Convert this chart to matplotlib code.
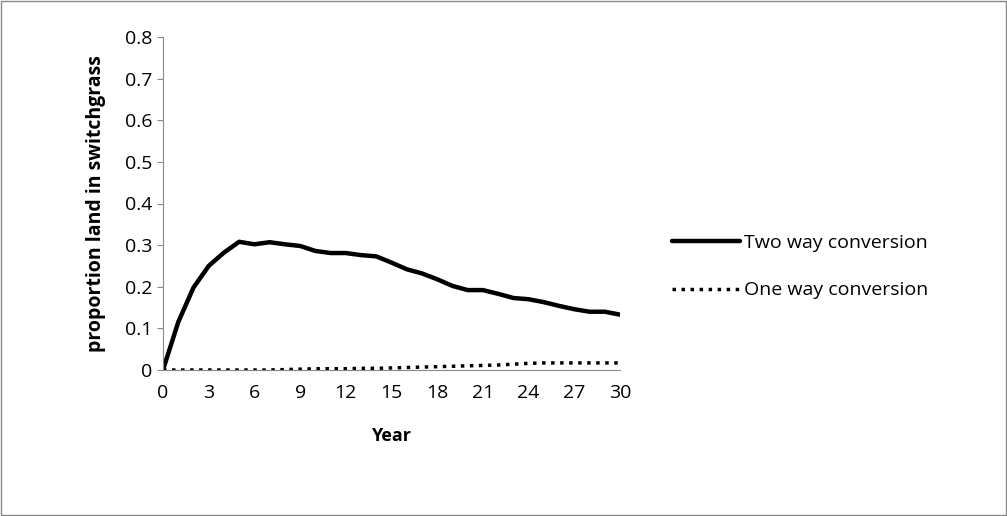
import matplotlib
matplotlib.use('Agg')
import matplotlib.pyplot as plt

years = list(range(31))
two_way = [0.0, 0.115, 0.198, 0.25, 0.282, 0.308, 0.302, 0.307, 0.302, 0.298, 0.286,
           0.281, 0.281, 0.276, 0.273, 0.258, 0.242, 0.232, 0.218, 0.202, 0.192,
           0.192, 0.183, 0.173, 0.17, 0.163, 0.154, 0.146, 0.14, 0.14, 0.133]
one_way = [0.0, 0.0, 0.0, 0.0, 0.0, 0.0, 0.0, 0.0, 0.001, 0.002, 0.003,
           0.003, 0.003, 0.004, 0.004, 0.005, 0.006, 0.007, 0.008, 0.009, 0.01,
           0.011, 0.012, 0.014, 0.016, 0.017, 0.017, 0.017, 0.017, 0.017, 0.017]

plt.rcParams['font.family'] = ['Open Sans', 'DejaVu Sans']

fig = plt.figure(figsize=(10.07, 5.16), dpi=100)
ax = fig.add_axes([163/1007, 1 - 370/516, (620 - 163)/1007, (370 - 37)/516])

ax.plot(years, two_way, color='black', lw=3.2, label='Two way conversion', solid_capstyle='round')
ax.plot(years, one_way, color='black', lw=2.5, linestyle=(0, (1, 1.6)), label='One way conversion')

ax.set_xlim(0, 30)
ax.set_ylim(0, 0.8)
ax.set_xticks(range(0, 31, 3))
ax.set_yticks([i / 10 for i in range(9)])
ax.set_yticklabels(['0'] + [f'{i/10:.1f}' for i in range(1, 9)])
ax.tick_params(labelsize=14, color='#888888', length=4, direction='out')
ax.tick_params(axis='x', length=0, pad=10)
for s in ['top', 'right']:
    ax.spines[s].set_visible(False)
for s in ['left', 'bottom']:
    ax.spines[s].set_color('#888888')

ax.set_xlabel('Year', fontsize=13, fontweight='bold', labelpad=18)
ax.set_ylabel('proportion land in switchgrass', fontsize=14, fontweight='bold', labelpad=14)

ax.legend(loc='center left', bbox_to_anchor=(1.075, 0.31), frameon=False, fontsize=14,
          handlelength=3.5, handletextpad=0.2, labelspacing=1.5)

fig.patches.append(plt.Rectangle((0.001, 0.001), 0.998, 0.998, transform=fig.transFigure,
                                 fill=False, edgecolor='#888888', lw=1))
fig.savefig('out.png', dpi=100)
